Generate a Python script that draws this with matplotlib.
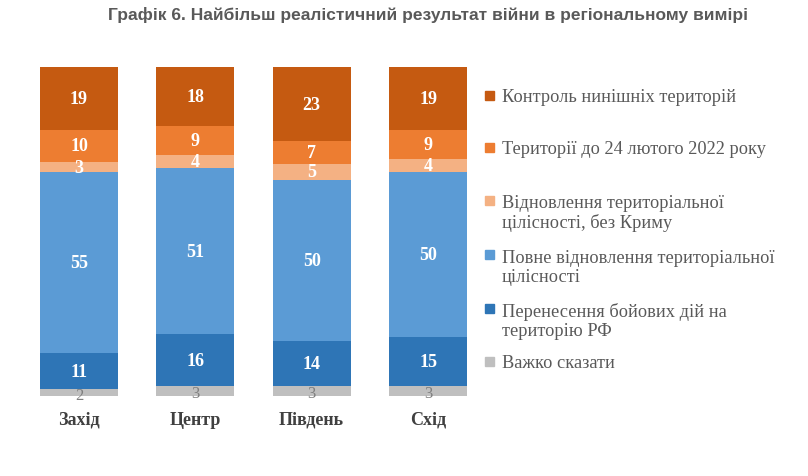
import numpy as np
import matplotlib
matplotlib.use("Agg")
import matplotlib.pyplot as plt
from matplotlib.patches import Rectangle

regions = ["Захід", "Центр", "Південь", "Схід"]
series = [
    "Важко сказати",
    "Перенесення бойових дій на\nтериторію РФ",
    "Повне відновлення територіальної\nцілісності",
    "Відновлення територіальної\nцілісності, без Криму",
    "Території до 24 лютого 2022 року",
    "Контроль нинішніх територій",
]
hard_to_say = [2, 3, 3, 3]
move_to_rf = [11, 16, 14, 15]
full_restore = [55, 51, 50, 50]
restore_no_crimea = [3, 4, 5, 4]
before_feb24 = [10, 9, 7, 9]
current_control = [19, 18, 23, 19]

colors = ["#BFBFBF", "#2E75B6", "#5B9BD5", "#F4B183", "#ED7D31", "#C55A11"]

data = np.array([hard_to_say, move_to_rf, full_restore,
                 restore_no_crimea, before_feb24, current_control], dtype=float)
shares = data / data.sum(axis=0) * 100  # 100% stacked

fig = plt.figure(figsize=(8.08, 4.77), dpi=100)
ax = fig.add_axes([40 / 808, 80 / 477, 427 / 808, 329 / 477])

x = np.arange(len(regions))
bottom = np.zeros(len(regions))
for i in range(len(series)):
    ax.bar(x, shares[i], 0.67, bottom=bottom, color=colors[i], linewidth=0)
    for j in range(len(regions)):
        yc = bottom[j] + shares[i][j] / 2
        if i == 0:
            ax.text(x[j], yc - 0.6, str(int(data[i][j])), ha="center", va="center",
                    fontsize=12, color="#7F7F7F", family="Liberation Serif")
        else:
            ax.text(x[j], yc, str(int(data[i][j])), ha="center", va="center",
                    fontsize=13, color="white", fontweight="bold",
                    family="Liberation Serif")
    bottom += shares[i]

ax.set_xlim(-0.335, 3.335)
ax.set_ylim(0, 100)
ax.axis("off")
for j, r in enumerate(regions):
    ax.text(x[j], -7, r, ha="center", va="center", fontsize=13,
            fontweight="bold", color="#404040", family="Liberation Serif")

fig.text(428 / 808, 1 - 15 / 477,
         "Графік 6. Найбільш реалістичний результат війни в регіональному вимірі",
         ha="center", va="center", fontsize=12.5, fontweight="bold", color="#595959",
         family=["Liberation Sans Narrow", "Liberation Sans"])

# legend, top entry first
legend_y = [96, 148, 201, 255, 309, 362]
order = list(range(len(series)))[::-1]
for k, i in enumerate(order):
    yp = legend_y[k]
    fig.patches.append(Rectangle((485 / 808, 1 - (yp + 4.5) / 477), 9 / 808, 9 / 477,
                                 transform=fig.transFigure, color=colors[i]))
    nlines = series[i].count("\n")
    fig.text(502 / 808, 1 - (yp + 5.5 + 21.5 * nlines) / 477, series[i],
             ha="left", va="baseline", fontsize=13.2, color="#595959",
             family="Liberation Serif", linespacing=1.12)

fig.savefig("out.png", dpi=100)
